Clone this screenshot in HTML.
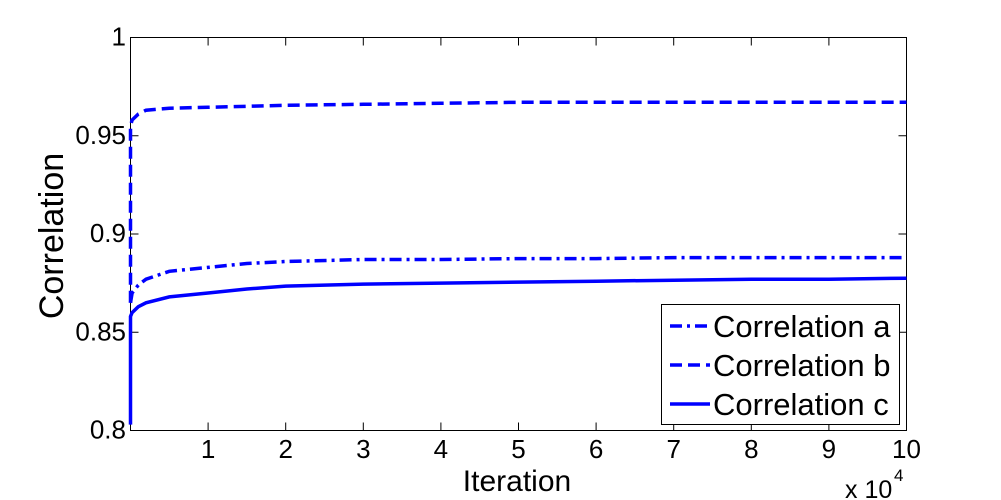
<!DOCTYPE html>
<html><head><meta charset="utf-8"><style>
html,body{margin:0;padding:0;background:#fff;}
svg{display:block;font-family:"Liberation Sans",Arial,sans-serif;}
</style></head><body>
<svg id="chart" width="1001" height="500" viewBox="0 0 1001 500">
<rect width="1001" height="500" fill="#fff"/>
<g id="plot"></g>
</svg>
<script>
const xTicks = [1,2,3,4,5,6,7,8,9,10];
const yTicks = [0.8,0.85,0.9,0.95,1];
const yTickLabels = ["0.8","0.85","0.9","0.95","1"];
const seriesNames = ["Correlation a","Correlation b","Correlation c"];
const xsA = [0,0.02,0.1,0.2,0.5,1,1.5,2,3,4,5,6,7,8,9,10];
const valsA = [0.865,0.870,0.874,0.877,0.881,0.883,0.885,0.886,0.887,0.887,0.8875,0.8875,0.888,0.888,0.888,0.888];
const xsB = [0,0,0.02,0.1,0.2,0.5,1,2,3,4,5,6,7,8,9,10];
const valsB = [0.865,0.955,0.958,0.961,0.963,0.964,0.9645,0.9655,0.966,0.9665,0.967,0.967,0.967,0.967,0.967,0.967];
const xsC = [0,0,0.02,0.1,0.2,0.5,1,1.5,2,3,4,5,6,7,8,9,10];
const valsC = [0.803,0.858,0.860,0.863,0.865,0.868,0.870,0.872,0.8735,0.8745,0.875,0.8755,0.876,0.8765,0.877,0.877,0.8775];

const X0=130.5,X1=906.5,Y0=430.5,Y1=37.5;
const sx=v=>X0+(v/10)*(X1-X0);
const sy=v=>Y0-(v-0.8)/0.2*(Y0-Y1);
const NS="http://www.w3.org/2000/svg";
const g=document.getElementById('plot');
function mk(t,a,p){const e=document.createElementNS(NS,t);for(const k in a)e.setAttribute(k,a[k]);(p||g).appendChild(e);return e;}

const axes=mk('rect',{x:X0,y:Y1,width:X1-X0,height:Y0-Y1,fill:'#fff',stroke:'#000','stroke-width':1});



xTicks.forEach(t=>{
  const x=sx(t);
  const tk=mk('path',{d:`M${x},${Y0}v-8M${x},${Y1}v8`,stroke:'#000','stroke-width':1});
  
  
  const tl=mk('text',{x:x,y:458,'font-size':26,'text-anchor':'middle'});
  tl.textContent=t;
  
  
});
yTicks.forEach((t,i)=>{
  const y=sy(t);
  const tk=mk('path',{d:`M${X0},${y}h8M${X1},${y}h-8`,stroke:'#000','stroke-width':1});
  
  
  const tl=mk('text',{x:126,y:y+8,'font-size':26,'text-anchor':'end'});
  tl.textContent=yTickLabels[i];
  
  
});

function line(xs,vs,dash,name){
  const d=xs.map((x,i)=>(i?'L':'M')+sx(x).toFixed(1)+','+sy(vs[i]).toFixed(1)).join('');
  const p=mk('path',{d:d,fill:'none',stroke:'#0000ff','stroke-width':3.5,'stroke-dasharray':dash});
  
  
}
line(xsA,valsA,'12,5,3,5','series-correlation-a');
line(xsB,valsB,'12,6','series-correlation-b');
line(xsC,valsC,'none','series-correlation-c');

const xl=mk('text',{x:517,y:491,'font-size':30,'text-anchor':'middle'});
xl.textContent='Iteration';


const yl=mk('text',{x:0,y:0,'font-size':34,'text-anchor':'middle',transform:'translate(63,236) rotate(-90)'});
yl.textContent='Correlation';


const ex=mk('text',{x:845,y:498,'font-size':25});
ex.textContent='x 10';


const ex2=mk('text',{x:894,y:481,'font-size':17});
ex2.textContent='4';



const lg=mk('g',{});


const lb=mk('rect',{x:661.5,y:304.5,width:238,height:120,fill:'#fff',stroke:'#000','stroke-width':1},lg);


const dashes=['12,5,3,5','12,6','none'];
seriesNames.forEach((n,i)=>{
  const y=326+i*39;
  const sw=mk('line',{x1:670,x2:710,y1:y,y2:y,stroke:'#0000ff','stroke-width':3.5,'stroke-dasharray':dashes[i]},lg);
  
  
  const t=mk('text',{x:713,y:y+11,'font-size':31},lg);
  t.textContent=n;
  
  
});
</script>
</body></html>
